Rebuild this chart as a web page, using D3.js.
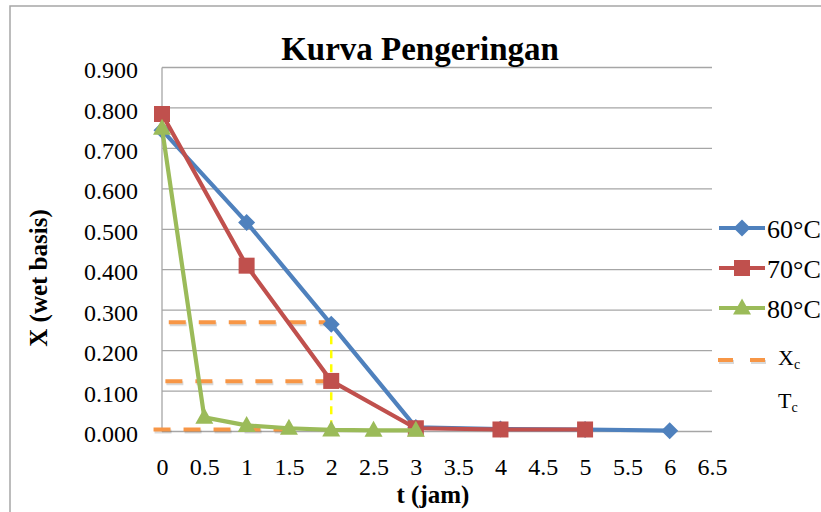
<!DOCTYPE html>
<html><head><meta charset="utf-8">
<script src="https://cdn.jsdelivr.net/npm/d3@7"></script>
<style>body{margin:0;background:#fff}svg{display:block}</style>
</head><body>
<svg id="c" width="821" height="512"></svg>
<script>
const seriesNames = ["60°C", "70°C", "80°C"];
const seriesColors = ["#4F81BD", "#C0504D", "#9BBB59"];
const seriesShapes = ["diamond", "square", "triangle"];
const t60 = [0, 1, 2, 3, 4, 5, 6];
const x60 = [0.745, 0.517, 0.265, 0.010, 0.006, 0.005, 0.002];
const t70 = [0, 1, 2, 3, 4, 5];
const x70 = [0.785, 0.410, 0.125, 0.008, 0.005, 0.005];
const t80 = [0, 0.5, 1, 1.5, 2, 2.5, 3];
const x80 = [0.750, 0.035, 0.015, 0.008, 0.004, 0.003, 0.003];
const xcLevels = [0.270, 0.124, 0.005];
const xcStart = [0.08, 0.04, -0.1];
const xcEnd = [2.07, 2.0, 1.6];
const tcTime = 2;
const tcTop = 0.270;
const xTicks = [0, 0.5, 1, 1.5, 2, 2.5, 3, 3.5, 4, 4.5, 5, 5.5, 6, 6.5];
const yTicks = [0, 0.1, 0.2, 0.3, 0.4, 0.5, 0.6, 0.7, 0.8, 0.9];

const svg = d3.select("#c");
const font = "Liberation Serif";
const L = 162, R = 712, T = 67.5, B = 431.5;
const x = d3.scaleLinear().domain([0, 6.5]).range([L, R]);
const y = d3.scaleLinear().domain([0, 0.9]).range([B, T]);

// chart frame
svg.append("path").attr("d", "M10,512 L10,6 L821,6").attr("fill", "none").attr("stroke", "#a6a6a6").attr("stroke-width", 1.5);

// gridlines
svg.append("g").selectAll("line").data(yTicks).join("line")
  .attr("x1", L).attr("x2", R).attr("y1", d => y(d)).attr("y2", d => y(d))
  .attr("stroke", "#a6a6a6").attr("stroke-width", 1.3);
svg.append("line").attr("x1", L).attr("x2", L).attr("y1", T).attr("y2", B)
  .attr("stroke", "#a6a6a6").attr("stroke-width", 1.3);

// axes
const yAxis = svg.append("g").attr("transform", `translate(${L},0)`)
  .call(d3.axisLeft(y).tickValues(yTicks).tickFormat(d3.format(".3f")).tickSize(0).tickPadding(24));
yAxis.attr("font-family", font).attr("font-size", 24);
yAxis.select(".domain").remove();
yAxis.selectAll("text").attr("font-family", font).attr("font-size", 24).attr("fill", "#000").attr("dy", "0.42em");

const xAxis = svg.append("g").attr("transform", `translate(0,${B})`)
  .call(d3.axisBottom(x).tickValues(xTicks).tickFormat(d => String(d)).tickSize(0).tickPadding(26));
xAxis.attr("font-family", font).attr("font-size", 24);
xAxis.select(".domain").remove();
xAxis.selectAll("text").attr("font-family", font).attr("font-size", 24).attr("fill", "#000");

// titles
svg.append("text").attr("x", 420).attr("y", 60).attr("text-anchor", "middle").attr("font-family", font)
  .attr("font-weight", "bold").attr("font-size", 33).text("Kurva Pengeringan");
svg.append("text").attr("x", 433).attr("y", 503).attr("text-anchor", "middle").attr("font-family", font)
  .attr("font-weight", "bold").attr("font-size", 25).text("t (jam)");
svg.append("text").attr("transform", "translate(47,278) rotate(-90)").attr("text-anchor", "middle").attr("font-family", font)
  .attr("font-weight", "bold").attr("font-size", 25).text("X (wet basis)");

// Xc dashed lines (with soft shadow)
const xcG = svg.append("g");
xcG.selectAll("line.s").data(xcLevels).join("line").attr("class", "s")
  .attr("x1", (d, i) => x(xcStart[i]) + 1).attr("x2", (d, i) => x(xcEnd[i]) + 1)
  .attr("y1", d => y(d) + 2).attr("y2", d => y(d) + 2)
  .attr("stroke", "#000").attr("stroke-opacity", 0.15).attr("stroke-width", 4).attr("stroke-dasharray", "17,13");
xcG.selectAll("line.m").data(xcLevels).join("line").attr("class", "m")
  .attr("x1", (d, i) => x(xcStart[i])).attr("x2", (d, i) => x(xcEnd[i]))
  .attr("y1", d => y(d)).attr("y2", d => y(d))
  .attr("stroke", "#F79646").attr("stroke-width", 4).attr("stroke-dasharray", "17,13");

// Tc vertical
svg.append("line").attr("x1", x(tcTime)).attr("x2", x(tcTime)).attr("y1", y(tcTop)).attr("y2", y(0))
  .attr("stroke", "#FFFF00").attr("stroke-width", 2.5).attr("stroke-dasharray", "8,6");

// series
const data = [
  t60.map((t, i) => [t, x60[i]]),
  t70.map((t, i) => [t, x70[i]]),
  t80.map((t, i) => [t, x80[i]])
];
const line = d3.line().x(d => x(d[0])).y(d => y(d[1]));
function markerPath(shape){
  if (shape === "diamond") return "M0,-8.5L8.5,0L0,8.5L-8.5,0Z";
  if (shape === "square") return "M-8,-8H8V8H-8Z";
  return "M0,-9.5L9,6.5H-9Z";
}
data.forEach((pts, si) => {
  const g = svg.append("g");
  g.append("path").attr("d", line(pts)).attr("fill", "none")
    .attr("stroke", seriesColors[si]).attr("stroke-width", 4.2).attr("stroke-linejoin", "round");
  g.selectAll("path.m").data(pts).join("path").attr("class", "m")
    .attr("transform", d => `translate(${x(d[0])},${y(d[1])})`)
    .attr("d", markerPath(seriesShapes[si])).attr("fill", seriesColors[si]);
});

// legend
const legY = [228, 268, 308];
const lg = svg.append("g");
seriesNames.forEach((n, i) => {
  lg.append("line").attr("x1", 719).attr("x2", 765).attr("y1", legY[i]).attr("y2", legY[i])
    .attr("stroke", seriesColors[i]).attr("stroke-width", 4.2);
  lg.append("path").attr("transform", `translate(742,${legY[i]})`).attr("d", markerPath(seriesShapes[i])).attr("fill", seriesColors[i]);
  lg.append("text").attr("x", 767).attr("y", legY[i] + 9.5).attr("font-family", font).attr("font-size", 26).text(n);
});
lg.append("line").attr("x1", 719).attr("x2", 766).attr("y1", 362).attr("y2", 362)
  .attr("stroke", "#000").attr("stroke-opacity", 0.15).attr("stroke-width", 4).attr("stroke-dasharray", "15,17");
lg.append("line").attr("x1", 718).attr("x2", 765).attr("y1", 360).attr("y2", 360)
  .attr("stroke", "#F79646").attr("stroke-width", 4).attr("stroke-dasharray", "15,17");
const xcT = lg.append("text").attr("x", 778).attr("y", 365).attr("font-family", font).attr("font-size", 22);
xcT.append("tspan").text("X");
xcT.append("tspan").attr("font-size", 14).attr("dy", 4).text("c");
const tcT = lg.append("text").attr("x", 778).attr("y", 408).attr("font-family", font).attr("font-size", 22);
tcT.append("tspan").text("T");
tcT.append("tspan").attr("font-size", 14).attr("dy", 4).text("c");
</script>
</body></html>
